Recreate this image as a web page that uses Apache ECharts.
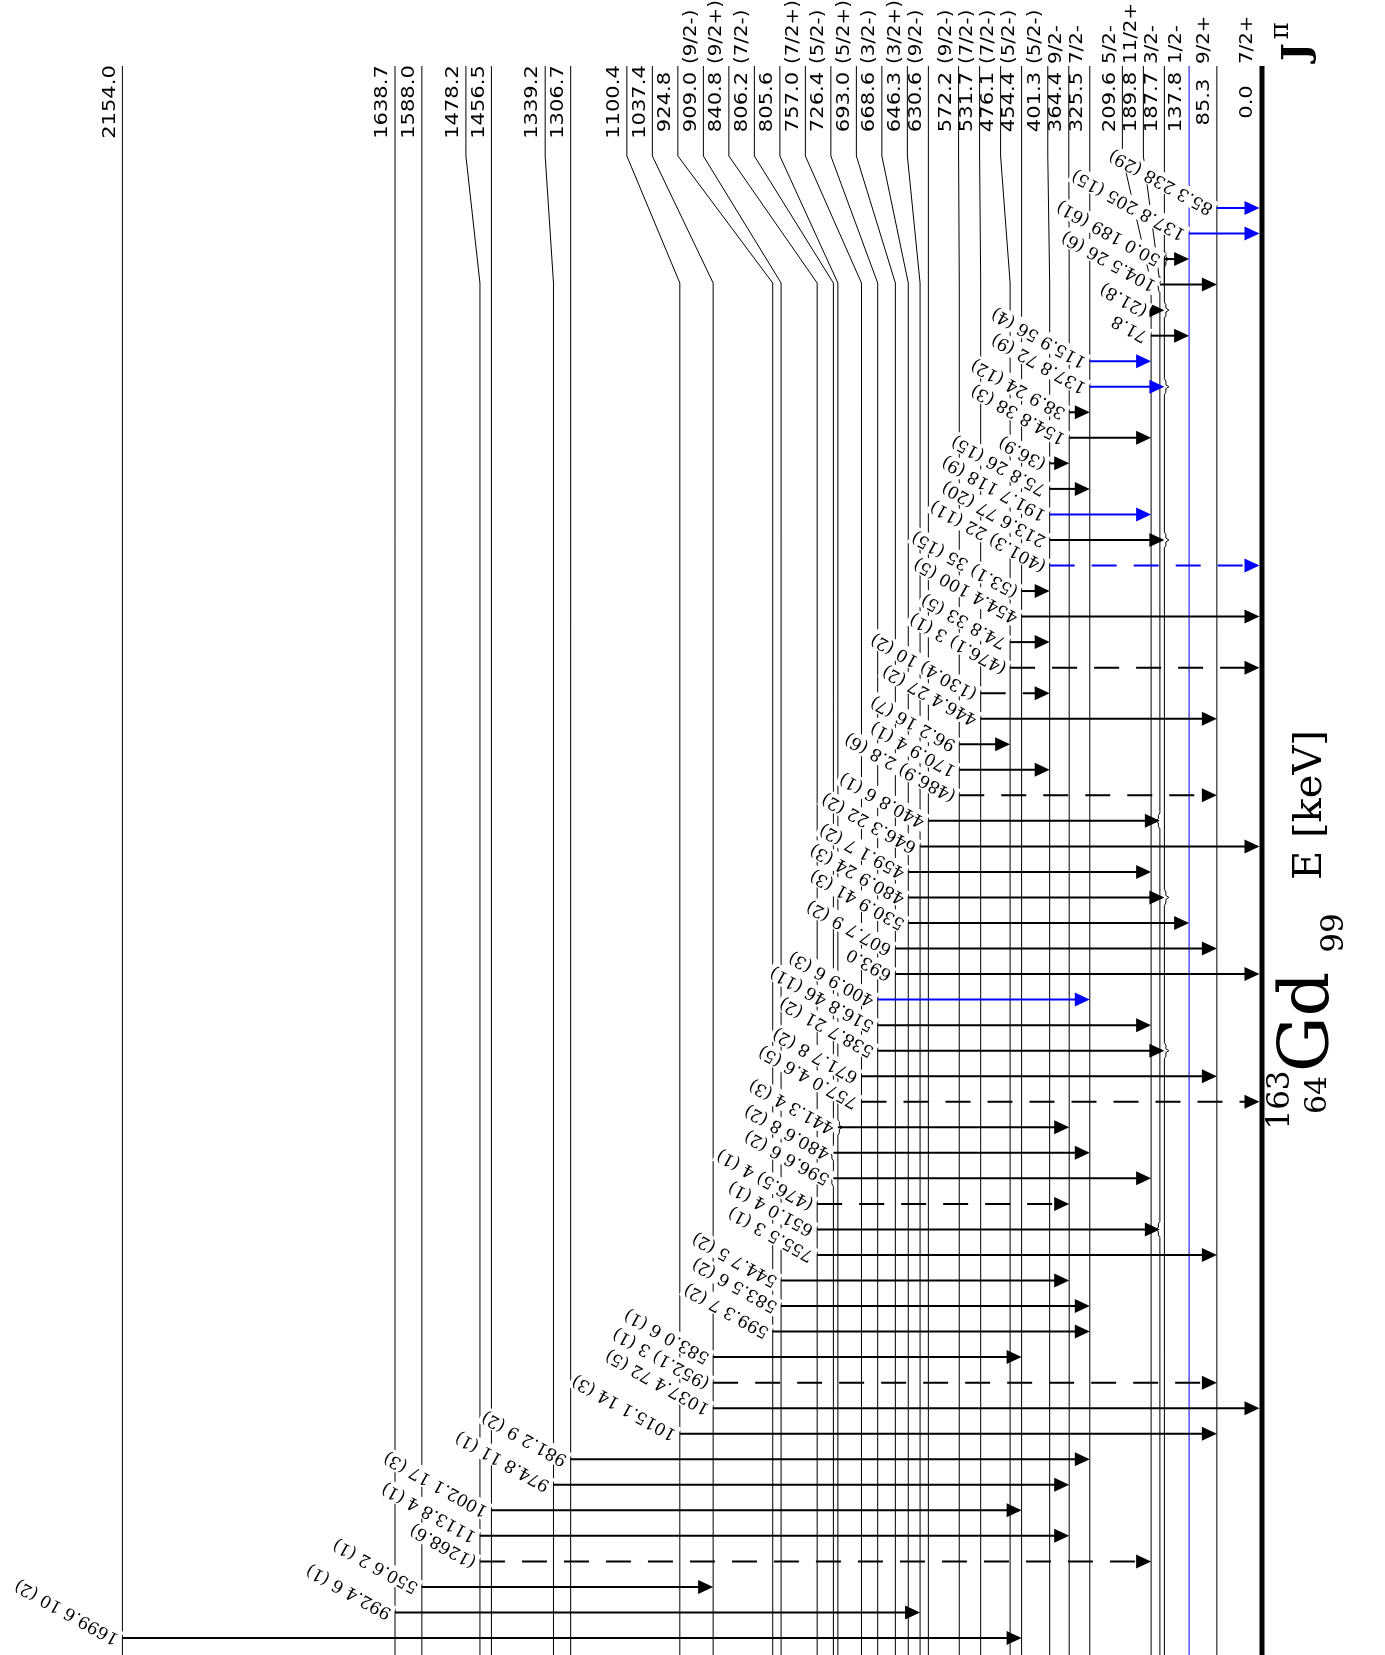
<!DOCTYPE html>
<html>
<head>
<meta charset="utf-8">
<script src="https://cdn.jsdelivr.net/npm/echarts@6/dist/echarts.min.js"></script>
<style>
  html, body { margin: 0; padding: 0; background: #fff; }
  #chart { width: 1385px; height: 1655px; }
</style>
</head>
<body>
<div id="chart"></div>
<script>
// ---- 163Gd level scheme: levels (keV) and spin-parity assignments ----
const levelEnergy = [0.0, 85.3, 137.8, 187.7, 189.8, 209.6, 325.5, 364.4, 401.3, 454.4,
  476.1, 531.7, 572.2, 630.6, 646.3, 668.6, 693.0, 726.4, 757.0, 805.6, 806.2, 840.8,
  909.0, 924.8, 1037.4, 1100.4, 1306.7, 1339.2, 1456.5, 1478.2, 1588.0, 1638.7, 2154.0];
const levelSpin = ['7/2+', '9/2+', '1/2-', '3/2-', '11/2+', '5/2-', '7/2-', '9/2-', '(5/2-)', '(5/2-)',
  '(7/2-)', '(7/2-)', '(9/2-)', '(9/2-)', '(3/2+)', '(3/2-)', '(5/2+)', '(5/2-)', '(7/2+)', '', '(7/2-)', '(9/2+)',
  '(9/2-)', '', '', '', '', '', '', '', '', '', ''];
const highlightedLevels = [137.8];

// ---- gamma transitions, one per row, top to bottom ----
const gammaFrom = [85.3, 137.8, 187.7, 189.8, 209.6, 209.6, 325.5, 325.5, 364.4, 364.4,
  401.3, 401.3, 401.3, 401.3, 401.3, 454.4, 454.4, 476.1, 476.1, 531.7,
  531.7, 572.2, 572.2, 572.2, 630.6, 646.3, 668.6, 668.6, 668.6, 693.0,
  693.0, 726.4, 726.4, 726.4, 757.0, 757.0, 805.6, 806.2, 806.2, 840.8,
  840.8, 840.8, 909.0, 909.0, 924.8, 1037.4, 1037.4, 1037.4, 1100.4, 1306.7,
  1339.2, 1456.5, 1478.2, 1478.2, 1588.0, 1638.7, 2154.0];
const gammaTo = [0.0, 0.0, 137.8, 85.3, 187.7, 137.8, 209.6, 187.7, 325.5, 209.6,
  364.4, 325.5, 209.6, 187.7, 0.0, 401.3, 0.0, 401.3, 0.0, 401.3,
  85.3, 476.1, 401.3, 85.3, 189.8, 0.0, 209.6, 187.7, 137.8, 85.3,
  0.0, 325.5, 209.6, 187.7, 85.3, 0.0, 364.4, 325.5, 209.6, 364.4,
  189.8, 85.3, 364.4, 325.5, 325.5, 454.4, 85.3, 0.0, 85.3, 325.5,
  364.4, 454.4, 364.4, 209.6, 1037.4, 646.3, 454.4];
const gammaEnergy = ['85.3', '137.8', '50.0', '104.5', '(21.8)', '71.8', '115.9', '137.8', '38.9', '154.8',
  '(36.9)', '75.8', '191.7', '213.6', '(401.3)', '(53.1)', '454.4', '74.8', '(476.1)', '(130.4)',
  '446.4', '96.2', '170.9', '(486.9)', '440.8', '646.3', '459.1', '480.9', '530.9', '607.7',
  '693.0', '400.9', '516.8', '538.7', '671.7', '757.0', '441.3', '480.6', '596.6', '(476.5)',
  '651.0', '755.5', '544.7', '583.5', '599.3', '583.0', '(952.1)', '1037.4', '1015.1', '981.2',
  '974.8', '1002.1', '1113.8', '(1268.6)', '550.6', '992.4', '1699.6'];
const gammaIntensity = ['238 (29)', '205 (15)', '189 (61)', '26 (6)', '', '', '56 (4)', '72 (9)', '24 (12)', '38 (3)',
  '', '26 (15)', '118 (9)', '77 (20)', '22 (11)', '35 (15)', '100 (5)', '33 (5)', '3 (1)', '10 (2)',
  '27 (2)', '16 (7)', '4 (1)', '2.8 (6)', '6 (1)', '22 (2)', '7 (2)', '24 (3)', '41 (3)', '9 (2)',
  '', '6 (3)', '46 (11)', '21 (2)', '8 (2)', '4.6 (5)', '4 (3)', '8 (2)', '6 (2)', '4 (1)',
  '4 (1)', '3 (1)', '5 (2)', '6 (2)', '7 (2)', '6 (1)', '3 (1)', '72 (5)', '14 (3)', '9 (2)',
  '11 (1)', '17 (3)', '4 (1)', '', '2 (1)', '6 (1)', '10 (2)'];
// rows drawn in blue, rows drawn dashed (tentative placement)
const gammaBlue = [1, 2, 7, 8, 13, 15, 32];
const gammaDashed = [15, 19, 20, 24, 36, 40, 47, 54];

// ---- drawing ----
const W = 1385, H = 1655;
const LINE_TOP = 66, BEND_1 = 156, BEND_2 = 283;
const GAP_LOW = 21, GAP_HIGH = 25.5, GAP_SWITCH_KEV = 650;
const DOUBLET_GAP = 4.5;
const BLUE = '#0000ff';
const HEAD_LEN = 15, HEAD_HALF = 7;
const SANS = '"DejaVu Sans", sans-serif';
const SERIF = '"DejaVu Serif", serif';

// level line positions on the energy axis; near-coincident levels are nudged apart
function levelLayout(api) {
  const xs = levelEnergy.map(e => api.coord([e, 1])[0]);
  const side = levelEnergy.map(() => 0);
  for (let i = 1; i < xs.length; i++) {
    if (xs[i - 1] - xs[i] < DOUBLET_GAP) {
      const m = (xs[i - 1] + xs[i]) / 2;
      xs[i - 1] = m + DOUBLET_GAP / 2; side[i - 1] = 1;
      xs[i] = m - DOUBLET_GAP / 2; side[i] = -1;
    }
  }
  // labels: walk up from the ground state keeping a minimum spacing
  const lx = [];
  for (let i = 0; i < xs.length; i++) {
    const gap = levelEnergy[i] < GAP_SWITCH_KEV ? GAP_LOW : GAP_HIGH;
    lx[i] = i === 0 ? xs[i] : Math.min(xs[i], lx[i - 1] - gap);
  }
  return { xs, lx, side };
}

function renderLevel(params, api) {
  const i = params.dataIndex;
  const { xs, lx, side } = levelLayout(api);
  const x = xs[i], l = lx[i];
  const e = levelEnergy[i];
  const blue = highlightedLevels.indexOf(e) >= 0;
  const ground = e === 0;
  const pts = [[l, LINE_TOP], [l, BEND_1], [x, BEND_2]];
  if (side[i]) {
    // small brace on a doublet line wherever a transition attaches to it
    const s = side[i];
    gammaFrom.forEach((f, k) => {
      if (f !== e && gammaTo[k] !== e) return;
      const y = api.coord([e, k + 1])[1];
      pts.push([x, y - 8], [x + s * 1.5, y - 5.5], [x + s * 1.5, y - 2], [x + s * 4.5, y],
        [x + s * 1.5, y + 2], [x + s * 1.5, y + 5.5], [x, y + 8]);
    });
  }
  pts.push([x, H]);
  const tx = l - (ground ? 6 : 3.5);
  const children = [{
    type: 'polyline',
    shape: { points: pts },
    style: { stroke: blue ? BLUE : '#000', lineWidth: ground ? 5 : 1, fill: null }
  }, {
    type: 'text', x: tx, y: 102, rotation: Math.PI / 2, scaleX: 1.17,
    style: { text: e.toFixed(1), font: '18px ' + SANS, fill: '#000', align: 'center', verticalAlign: 'bottom' }
  }];
  if (levelSpin[i]) {
    children.push({
      type: 'text', x: tx, y: 64, rotation: Math.PI / 2, scaleX: 1.1,
      style: { text: levelSpin[i], font: '18px ' + SANS, fill: '#000', align: 'left', verticalAlign: 'bottom' }
    });
  }
  return { type: 'group', children };
}

function renderGamma(params, api) {
  const i = params.dataIndex;
  const row = i + 1;
  const { xs } = levelLayout(api);
  const x0 = xs[levelEnergy.indexOf(gammaFrom[i])];
  const x1 = xs[levelEnergy.indexOf(gammaTo[i])];
  const y = api.coord([gammaFrom[i], row])[1];
  const color = gammaBlue.indexOf(row) >= 0 ? BLUE : '#000';
  const dashed = gammaDashed.indexOf(row) >= 0;
  const tip = x1 - (gammaTo[i] === 0 ? 2.5 : 0);
  const label = gammaEnergy[i] + (gammaIntensity[i] ? ' ' + gammaIntensity[i] : '');
  return {
    type: 'group',
    children: [{
      type: 'line',
      shape: { x1: x0, y1: y, x2: tip - HEAD_LEN + 1, y2: y },
      style: { stroke: color, lineWidth: 2, lineDash: dashed ? [25, 17] : null }
    }, {
      type: 'polygon',
      shape: { points: [[tip, y], [tip - HEAD_LEN, y - HEAD_HALF], [tip - HEAD_LEN, y + HEAD_HALF]] },
      style: { fill: color }
    }, {
      type: 'text', x: x0 - 3, y: y + 2.5, rotation: 151 * Math.PI / 180,
      style: {
        text: label, font: '17px ' + SERIF, fill: '#000', align: 'left', verticalAlign: 'middle',
        backgroundColor: '#fff', padding: [1, 2]
      }
    }]
  };
}

const chart = echarts.init(document.getElementById('chart'));
chart.setOption({
  animation: false,
  backgroundColor: '#fff',
  grid: { left: 122.4, right: 1385 - 1262, top: 208, bottom: 17 },
  xAxis: { type: 'value', min: 0, max: 2154, inverse: true, show: false },
  yAxis: { type: 'value', min: 1, max: gammaFrom.length, inverse: true, show: false },
  graphic: [
    { type: 'text', x: 1298, y: 52, rotation: Math.PI / 2, style: { text: 'J', font: 'bold 38px ' + SERIF, fill: '#000', align: 'center', verticalAlign: 'middle' } },
    { type: 'text', x: 1281, y: 31, rotation: Math.PI / 2, style: { text: 'π', font: '26px ' + SERIF, fill: '#000', align: 'center', verticalAlign: 'middle' } },
    { type: 'text', x: 1311, y: 805, rotation: Math.PI / 2, style: { text: 'E [keV]', font: '40px ' + SERIF, fill: '#000', align: 'center', verticalAlign: 'middle' } },
    { type: 'text', x: 1310, y: 1022, rotation: Math.PI / 2, style: { text: 'Gd', font: '70px ' + SERIF, fill: '#000', align: 'center', verticalAlign: 'middle' } },
    { type: 'text', x: 1281, y: 1100, rotation: Math.PI / 2, style: { text: '163', font: '31px ' + SERIF, fill: '#000', align: 'center', verticalAlign: 'middle' } },
    { type: 'text', x: 1318, y: 1095, rotation: Math.PI / 2, style: { text: '64', font: '30px ' + SERIF, fill: '#000', align: 'center', verticalAlign: 'middle' } },
    { type: 'text', x: 1335, y: 933, rotation: Math.PI / 2, style: { text: '99', font: '31px ' + SERIF, fill: '#000', align: 'center', verticalAlign: 'middle' } }
  ],
  series: [{
    type: 'custom',
    coordinateSystem: 'cartesian2d',
    renderItem: renderLevel,
    data: levelEnergy.map((e, i) => [e, 1, i]),
    encode: { x: 0, y: 1 },
    clip: false,
    z: 1
  }, {
    type: 'custom',
    coordinateSystem: 'cartesian2d',
    renderItem: renderGamma,
    data: gammaFrom.map((f, i) => [f, gammaTo[i], i + 1]),
    encode: { x: [0, 1], y: 2 },
    clip: false,
    z: 2
  }]
});
</script>
</body>
</html>
